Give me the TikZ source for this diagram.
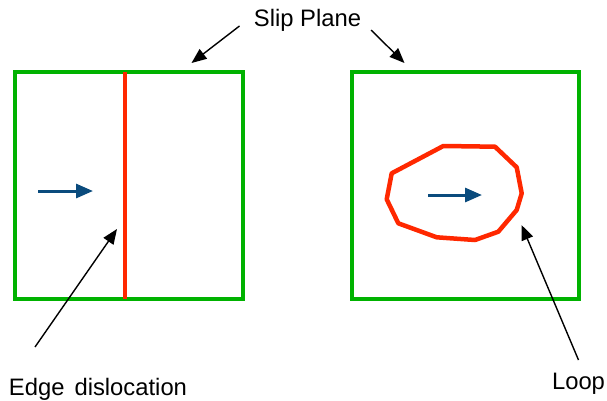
\documentclass[tikz,border=0pt]{standalone}
\usepackage{fontspec}
\setmainfont{Liberation Sans}
\usetikzlibrary{arrows.meta}
\definecolor{planegreen}{RGB}{0,178,0}
\definecolor{disred}{RGB}{255,40,0}
\definecolor{burgblue}{RGB}{10,75,125}
\tikzset{
  plane/.style={draw=planegreen, line width=3.6pt},
  disline/.style={draw=disred, line width=3.2pt},
  loopline/.style={draw=disred, line width=4.5pt, line join=round, line cap=round},
  burgers/.style={draw=burgblue, line width=3pt, -{Triangle[length=17pt,width=14pt]}},
  pointer/.style={draw=black, line width=1.4pt, -{Triangle[length=15pt,width=12pt]}},
  lbl/.style={font=\fontsize{23.8}{28}\selectfont, inner sep=0pt, anchor=base}
}
\begin{document}
\begin{tikzpicture}[x=1pt,y=-1pt]
\useasboundingbox (0,0) rectangle (607,400);
% slip planes
\draw[plane] (15,72) rectangle (243,299);
\draw[plane] (352,72) rectangle (579,299);
% edge dislocation line
\coordinate (edgetop) at (125,72);
\coordinate (edgebot) at (125,299);
\draw[disline] (edgetop) -- (edgebot);
% loop
\draw[loopline] (391.7,173.3) -- (443.3,146) -- (495,146.7) -- (516.7,167.3) -- (521.7,193.3) -- (516.7,210) -- (498.3,231.7) -- (475,240) -- (436.7,237.3) -- (398.3,223.3) -- (386.7,199.3) -- cycle;
% Burgers vectors
\coordinate (b1s) at (38,191);
\coordinate (b1e) at (93,191);
\draw[burgers] (b1s) -- (b1e);
\coordinate (b2s) at (428,195);
\coordinate (b2e) at (482,195);
\draw[burgers] (b2s) -- (b2e);
% labels
\node[lbl] (slip) at (307.5,26.5) {Slip Plane};
\node[lbl] (edge) at (98,395) {Edge\hspace{10pt}dislocation};
\node[lbl] (loop) at (578.5,389) {Loop};
% pointers
\coordinate (s1t) at (239.5,26);
\coordinate (s1h) at (191.5,63);
\coordinate (s2t) at (371,30);
\coordinate (s2h) at (404.5,63);
\coordinate (et) at (35,347);
\coordinate (eh) at (117,229);
\coordinate (lt) at (578.5,360);
\coordinate (lh) at (521.5,225);
\draw[pointer] (s1t) -- (s1h);
\draw[pointer] (s2t) -- (s2h);
\draw[pointer] (et) -- (eh);
\draw[pointer] (lt) -- (lh);
\end{tikzpicture}
\end{document}
